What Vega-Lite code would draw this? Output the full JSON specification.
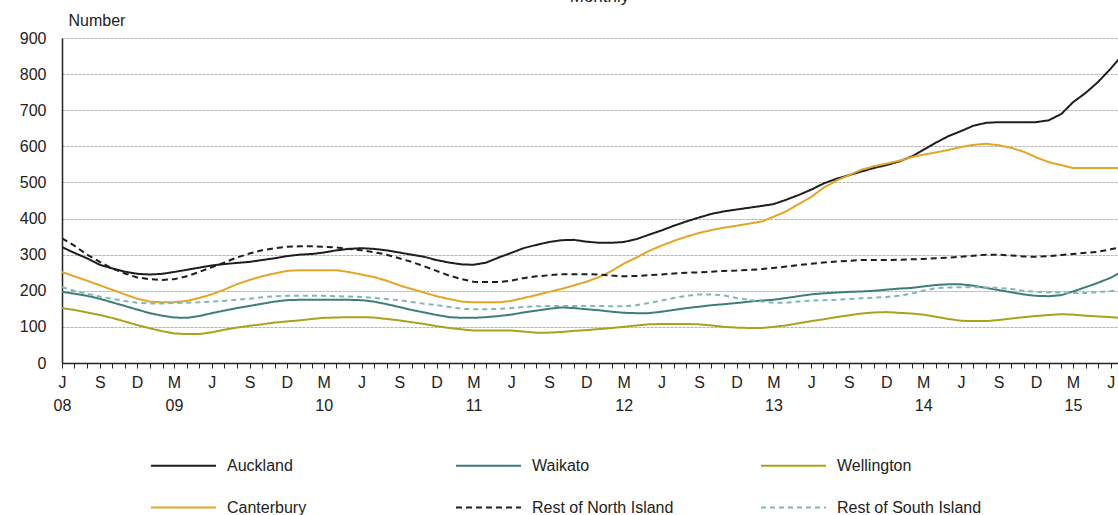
{
  "$schema": "https://vega.github.io/schema/vega-lite/v6.json",
  "autosize": {"type": "none"},
  "padding": {"left": 62, "top": 38, "right": 0, "bottom": 152},
  "width": 1061,
  "height": 325,
  "background": "white",
  "title": {"text": "Monthly", "fontSize": 17, "font": "Liberation Sans", "fontWeight": "normal", "color": "#222222", "anchor": "middle", "frame": "group", "offset": 6, "dx": 7},
  "data": {"values": [
    {"d":"2008-06-01","Auckland":321,"Waikato":197,"Wellington":152,"Canterbury":252,"Rest of North Island":345,"Rest of South Island":210},
    {"d":"2008-07-01","Auckland":305,"Waikato":192,"Wellington":147,"Canterbury":240,"Rest of North Island":325,"Rest of South Island":200},
    {"d":"2008-08-01","Auckland":290,"Waikato":186,"Wellington":140,"Canterbury":228,"Rest of North Island":300,"Rest of South Island":192},
    {"d":"2008-09-01","Auckland":272,"Waikato":178,"Wellington":133,"Canterbury":215,"Rest of North Island":280,"Rest of South Island":184},
    {"d":"2008-10-01","Auckland":262,"Waikato":168,"Wellington":125,"Canterbury":203,"Rest of North Island":262,"Rest of South Island":178},
    {"d":"2008-11-01","Auckland":253,"Waikato":158,"Wellington":115,"Canterbury":190,"Rest of North Island":248,"Rest of South Island":172},
    {"d":"2008-12-01","Auckland":247,"Waikato":148,"Wellington":105,"Canterbury":178,"Rest of North Island":237,"Rest of South Island":167},
    {"d":"2009-01-01","Auckland":245,"Waikato":138,"Wellington":96,"Canterbury":170,"Rest of North Island":232,"Rest of South Island":165},
    {"d":"2009-02-01","Auckland":247,"Waikato":131,"Wellington":88,"Canterbury":168,"Rest of North Island":230,"Rest of South Island":165},
    {"d":"2009-03-01","Auckland":252,"Waikato":126,"Wellington":82,"Canterbury":168,"Rest of North Island":232,"Rest of South Island":166},
    {"d":"2009-04-01","Auckland":258,"Waikato":125,"Wellington":80,"Canterbury":172,"Rest of North Island":240,"Rest of South Island":167},
    {"d":"2009-05-01","Auckland":264,"Waikato":130,"Wellington":80,"Canterbury":180,"Rest of North Island":252,"Rest of South Island":168},
    {"d":"2009-06-01","Auckland":270,"Waikato":138,"Wellington":85,"Canterbury":190,"Rest of North Island":265,"Rest of South Island":170},
    {"d":"2009-07-01","Auckland":274,"Waikato":145,"Wellington":92,"Canterbury":203,"Rest of North Island":278,"Rest of South Island":172},
    {"d":"2009-08-01","Auckland":277,"Waikato":152,"Wellington":98,"Canterbury":218,"Rest of North Island":292,"Rest of South Island":175},
    {"d":"2009-09-01","Auckland":280,"Waikato":158,"Wellington":103,"Canterbury":230,"Rest of North Island":303,"Rest of South Island":178},
    {"d":"2009-10-01","Auckland":285,"Waikato":164,"Wellington":107,"Canterbury":240,"Rest of North Island":312,"Rest of South Island":182},
    {"d":"2009-11-01","Auckland":290,"Waikato":170,"Wellington":112,"Canterbury":248,"Rest of North Island":318,"Rest of South Island":185},
    {"d":"2009-12-01","Auckland":296,"Waikato":174,"Wellington":115,"Canterbury":255,"Rest of North Island":322,"Rest of South Island":186},
    {"d":"2010-01-01","Auckland":300,"Waikato":175,"Wellington":118,"Canterbury":257,"Rest of North Island":323,"Rest of South Island":186},
    {"d":"2010-02-01","Auckland":302,"Waikato":175,"Wellington":122,"Canterbury":257,"Rest of North Island":323,"Rest of South Island":186},
    {"d":"2010-03-01","Auckland":306,"Waikato":175,"Wellington":125,"Canterbury":257,"Rest of North Island":322,"Rest of South Island":186},
    {"d":"2010-04-01","Auckland":312,"Waikato":175,"Wellington":126,"Canterbury":257,"Rest of North Island":320,"Rest of South Island":185},
    {"d":"2010-05-01","Auckland":316,"Waikato":175,"Wellington":127,"Canterbury":252,"Rest of North Island":316,"Rest of South Island":184},
    {"d":"2010-06-01","Auckland":318,"Waikato":174,"Wellington":127,"Canterbury":245,"Rest of North Island":312,"Rest of South Island":183},
    {"d":"2010-07-01","Auckland":316,"Waikato":170,"Wellington":126,"Canterbury":238,"Rest of North Island":307,"Rest of South Island":180},
    {"d":"2010-08-01","Auckland":312,"Waikato":163,"Wellington":122,"Canterbury":228,"Rest of North Island":300,"Rest of South Island":177},
    {"d":"2010-09-01","Auckland":306,"Waikato":155,"Wellington":118,"Canterbury":215,"Rest of North Island":290,"Rest of South Island":174},
    {"d":"2010-10-01","Auckland":300,"Waikato":147,"Wellington":113,"Canterbury":205,"Rest of North Island":280,"Rest of South Island":169},
    {"d":"2010-11-01","Auckland":294,"Waikato":140,"Wellington":108,"Canterbury":195,"Rest of North Island":268,"Rest of South Island":164},
    {"d":"2010-12-01","Auckland":285,"Waikato":133,"Wellington":102,"Canterbury":185,"Rest of North Island":255,"Rest of South Island":160},
    {"d":"2011-01-01","Auckland":278,"Waikato":127,"Wellington":97,"Canterbury":177,"Rest of North Island":242,"Rest of South Island":155},
    {"d":"2011-02-01","Auckland":273,"Waikato":125,"Wellington":93,"Canterbury":170,"Rest of North Island":232,"Rest of South Island":150},
    {"d":"2011-03-01","Auckland":272,"Waikato":125,"Wellington":90,"Canterbury":168,"Rest of North Island":225,"Rest of South Island":149},
    {"d":"2011-04-01","Auckland":278,"Waikato":127,"Wellington":90,"Canterbury":168,"Rest of North Island":224,"Rest of South Island":149},
    {"d":"2011-05-01","Auckland":292,"Waikato":130,"Wellington":90,"Canterbury":168,"Rest of North Island":224,"Rest of South Island":150},
    {"d":"2011-06-01","Auckland":305,"Waikato":134,"Wellington":90,"Canterbury":172,"Rest of North Island":228,"Rest of South Island":152},
    {"d":"2011-07-01","Auckland":318,"Waikato":140,"Wellington":87,"Canterbury":180,"Rest of North Island":235,"Rest of South Island":155},
    {"d":"2011-08-01","Auckland":327,"Waikato":145,"Wellington":84,"Canterbury":188,"Rest of North Island":240,"Rest of South Island":157},
    {"d":"2011-09-01","Auckland":335,"Waikato":150,"Wellington":84,"Canterbury":197,"Rest of North Island":243,"Rest of South Island":158},
    {"d":"2011-10-01","Auckland":340,"Waikato":154,"Wellington":86,"Canterbury":205,"Rest of North Island":246,"Rest of South Island":158},
    {"d":"2011-11-01","Auckland":341,"Waikato":152,"Wellington":89,"Canterbury":215,"Rest of North Island":246,"Rest of South Island":158},
    {"d":"2011-12-01","Auckland":336,"Waikato":149,"Wellington":91,"Canterbury":225,"Rest of North Island":246,"Rest of South Island":158},
    {"d":"2012-01-01","Auckland":333,"Waikato":146,"Wellington":94,"Canterbury":238,"Rest of North Island":245,"Rest of South Island":158},
    {"d":"2012-02-01","Auckland":333,"Waikato":142,"Wellington":97,"Canterbury":255,"Rest of North Island":242,"Rest of South Island":157},
    {"d":"2012-03-01","Auckland":335,"Waikato":139,"Wellington":100,"Canterbury":275,"Rest of North Island":240,"Rest of South Island":157},
    {"d":"2012-04-01","Auckland":343,"Waikato":138,"Wellington":104,"Canterbury":292,"Rest of North Island":241,"Rest of South Island":160},
    {"d":"2012-05-01","Auckland":355,"Waikato":138,"Wellington":107,"Canterbury":310,"Rest of North Island":243,"Rest of South Island":166},
    {"d":"2012-06-01","Auckland":367,"Waikato":142,"Wellington":108,"Canterbury":325,"Rest of North Island":245,"Rest of South Island":173},
    {"d":"2012-07-01","Auckland":380,"Waikato":147,"Wellington":108,"Canterbury":338,"Rest of North Island":248,"Rest of South Island":180},
    {"d":"2012-08-01","Auckland":392,"Waikato":152,"Wellington":108,"Canterbury":350,"Rest of North Island":250,"Rest of South Island":186},
    {"d":"2012-09-01","Auckland":403,"Waikato":156,"Wellington":107,"Canterbury":360,"Rest of North Island":251,"Rest of South Island":190},
    {"d":"2012-10-01","Auckland":413,"Waikato":160,"Wellington":104,"Canterbury":368,"Rest of North Island":253,"Rest of South Island":190},
    {"d":"2012-11-01","Auckland":420,"Waikato":163,"Wellington":100,"Canterbury":375,"Rest of North Island":255,"Rest of South Island":187},
    {"d":"2012-12-01","Auckland":425,"Waikato":166,"Wellington":98,"Canterbury":380,"Rest of North Island":256,"Rest of South Island":180},
    {"d":"2013-01-01","Auckland":430,"Waikato":170,"Wellington":97,"Canterbury":386,"Rest of North Island":258,"Rest of South Island":175},
    {"d":"2013-02-01","Auckland":435,"Waikato":173,"Wellington":97,"Canterbury":392,"Rest of North Island":260,"Rest of South Island":170},
    {"d":"2013-03-01","Auckland":440,"Waikato":175,"Wellington":100,"Canterbury":405,"Rest of North Island":263,"Rest of South Island":167},
    {"d":"2013-04-01","Auckland":452,"Waikato":180,"Wellington":104,"Canterbury":420,"Rest of North Island":267,"Rest of South Island":167},
    {"d":"2013-05-01","Auckland":465,"Waikato":185,"Wellington":110,"Canterbury":440,"Rest of North Island":271,"Rest of South Island":170},
    {"d":"2013-06-01","Auckland":480,"Waikato":190,"Wellington":116,"Canterbury":460,"Rest of North Island":275,"Rest of South Island":173},
    {"d":"2013-07-01","Auckland":497,"Waikato":193,"Wellington":121,"Canterbury":485,"Rest of North Island":278,"Rest of South Island":174},
    {"d":"2013-08-01","Auckland":510,"Waikato":195,"Wellington":127,"Canterbury":505,"Rest of North Island":281,"Rest of South Island":175},
    {"d":"2013-09-01","Auckland":520,"Waikato":197,"Wellington":132,"Canterbury":520,"Rest of North Island":283,"Rest of South Island":177},
    {"d":"2013-10-01","Auckland":530,"Waikato":198,"Wellington":137,"Canterbury":535,"Rest of North Island":285,"Rest of South Island":179},
    {"d":"2013-11-01","Auckland":540,"Waikato":200,"Wellington":140,"Canterbury":545,"Rest of North Island":285,"Rest of South Island":181},
    {"d":"2013-12-01","Auckland":548,"Waikato":203,"Wellington":141,"Canterbury":552,"Rest of North Island":285,"Rest of South Island":183},
    {"d":"2014-01-01","Auckland":558,"Waikato":206,"Wellington":139,"Canterbury":560,"Rest of North Island":286,"Rest of South Island":186},
    {"d":"2014-02-01","Auckland":572,"Waikato":208,"Wellington":137,"Canterbury":570,"Rest of North Island":287,"Rest of South Island":192},
    {"d":"2014-03-01","Auckland":590,"Waikato":212,"Wellington":134,"Canterbury":577,"Rest of North Island":288,"Rest of South Island":200},
    {"d":"2014-04-01","Auckland":610,"Waikato":216,"Wellington":128,"Canterbury":583,"Rest of North Island":290,"Rest of South Island":207},
    {"d":"2014-05-01","Auckland":628,"Waikato":218,"Wellington":122,"Canterbury":590,"Rest of North Island":292,"Rest of South Island":209},
    {"d":"2014-06-01","Auckland":642,"Waikato":218,"Wellington":117,"Canterbury":598,"Rest of North Island":294,"Rest of South Island":210},
    {"d":"2014-07-01","Auckland":657,"Waikato":214,"Wellington":116,"Canterbury":604,"Rest of North Island":297,"Rest of South Island":210},
    {"d":"2014-08-01","Auckland":665,"Waikato":208,"Wellington":116,"Canterbury":607,"Rest of North Island":300,"Rest of South Island":209},
    {"d":"2014-09-01","Auckland":667,"Waikato":202,"Wellington":119,"Canterbury":603,"Rest of North Island":300,"Rest of South Island":208},
    {"d":"2014-10-01","Auckland":667,"Waikato":196,"Wellington":123,"Canterbury":596,"Rest of North Island":298,"Rest of South Island":205},
    {"d":"2014-11-01","Auckland":667,"Waikato":190,"Wellington":127,"Canterbury":585,"Rest of North Island":295,"Rest of South Island":200},
    {"d":"2014-12-01","Auckland":667,"Waikato":186,"Wellington":130,"Canterbury":570,"Rest of North Island":294,"Rest of South Island":197},
    {"d":"2015-01-01","Auckland":672,"Waikato":185,"Wellington":133,"Canterbury":556,"Rest of North Island":296,"Rest of South Island":196},
    {"d":"2015-02-01","Auckland":690,"Waikato":188,"Wellington":135,"Canterbury":548,"Rest of North Island":299,"Rest of South Island":195},
    {"d":"2015-03-01","Auckland":722,"Waikato":198,"Wellington":134,"Canterbury":540,"Rest of North Island":302,"Rest of South Island":194},
    {"d":"2015-04-01","Auckland":748,"Waikato":210,"Wellington":131,"Canterbury":540,"Rest of North Island":305,"Rest of South Island":194},
    {"d":"2015-05-01","Auckland":778,"Waikato":222,"Wellington":129,"Canterbury":540,"Rest of North Island":308,"Rest of South Island":196},
    {"d":"2015-06-01","Auckland":815,"Waikato":236,"Wellington":127,"Canterbury":540,"Rest of North Island":315,"Rest of South Island":199},
    {"d":"2015-07-01","Auckland":855,"Waikato":255,"Wellington":124,"Canterbury":540,"Rest of North Island":322,"Rest of South Island":202}
  ]},
  "transform": [
    {"fold": ["Auckland", "Waikato", "Wellington", "Canterbury", "Rest of North Island", "Rest of South Island"], "as": ["region", "value"]}
  ],
  "mark": {"type": "line", "strokeWidth": 2, "clip": true},
  "encoding": {
    "x": {
      "field": "d", "type": "temporal",
      "scale": {"type": "utc", "domain": [{"year": 2008, "month": 6, "date": 1, "utc": true}, {"year": 2015, "month": 7, "date": 1, "utc": true}]},
      "axis": {
        "title": null,
        "grid": false,
        "tickCount": {"interval": "month", "step": 1},
        "ticks": true,
        "tickSize": 5,
        "tickColor": "#222222",
        "tickWidth": 1,
        "domainColor": "#222222",
        "domainWidth": 1.5,
        "labelOverlap": false,
        "labelFlush": false,
        "labelBound": false,
        "labelFont": "Liberation Sans",
        "labelFontSize": 16,
        "labelColor": "#222222",
        "labelPadding": 6,
        "labelLineHeight": 23,
        "labelExpr": "utcmonth(datum.value) % 3 != 2 ? '' : ((utcmonth(datum.value) == 2 || (utcyear(datum.value) == 2008 && utcmonth(datum.value) == 5)) ? [substring('JFMAMJJASOND', utcmonth(datum.value), utcmonth(datum.value) + 1), substring(utcyear(datum.value) + '', 2, 4)] : substring('JFMAMJJASOND', utcmonth(datum.value), utcmonth(datum.value) + 1))"
      }
    },
    "y": {
      "field": "value", "type": "quantitative",
      "scale": {"domain": [0, 900], "nice": false},
      "axis": {
        "values": [0, 100, 200, 300, 400, 500, 600, 700, 800, 900],
        "title": "Number",
        "titleAngle": 0,
        "titleX": 6,
        "titleY": -18,
        "titleAlign": "left",
        "titleBaseline": "middle",
        "titleFont": "Liberation Sans",
        "titleFontSize": 16,
        "titleFontWeight": "normal",
        "titleColor": "#222222",
        "ticks": false,
        "labelFont": "Liberation Sans",
        "labelFontSize": 16,
        "labelColor": "#222222",
        "labelPadding": 16,
        "domainColor": "#222222",
        "domainWidth": 1.5,
        "grid": true,
        "gridColor": "#b4b4b4",
        "gridWidth": 1,
        "gridDash": [3, 1]
      }
    },
    "color": {
      "field": "region", "type": "nominal",
      "scale": {
        "domain": ["Auckland", "Waikato", "Wellington", "Canterbury", "Rest of North Island", "Rest of South Island"],
        "range": ["#1e1e1e", "#3f7c7c", "#a9a21c", "#e3a623", "#1e1e1e", "#82b6b6"]
      },
      "legend": {
        "title": null,
        "orient": "none",
        "legendX": 88,
        "legendY": 394,
        "direction": "horizontal",
        "columns": 3,
        "gridAlign": "all",
        "columnPadding": 80,
        "rowPadding": -28,
        "symbolType": "stroke",
        "symbolSize": 4225,
        "symbolStrokeWidth": 2,
        "labelFont": "Liberation Sans",
        "labelFontSize": 16,
        "labelColor": "#222222",
        "labelOffset": 10,
        "labelLimit": 300,
        "offset": 0,
        "padding": 0
      }
    },
    "strokeDash": {
      "field": "region", "type": "nominal",
      "scale": {
        "domain": ["Auckland", "Waikato", "Wellington", "Canterbury", "Rest of North Island", "Rest of South Island"],
        "range": [[1, 0], [1, 0], [1, 0], [1, 0], [6, 4], [5, 4]]
      }
    }
  },
  "config": {"view": {"stroke": null}, "font": "Liberation Sans"}
}
